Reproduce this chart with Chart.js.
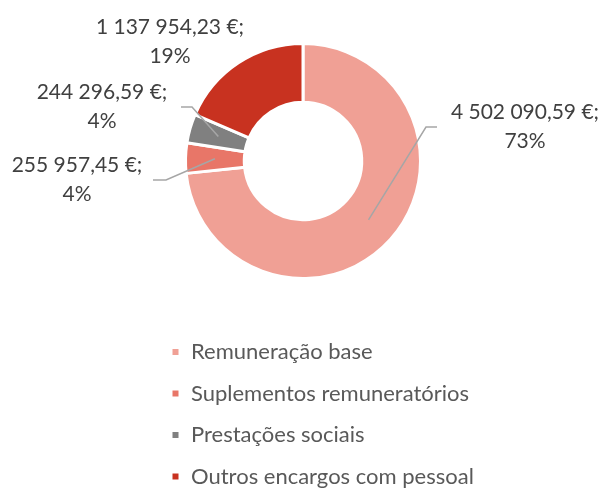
<!DOCTYPE html>
<html>
<head>
<meta charset="utf-8">
<script src="https://cdn.jsdelivr.net/npm/chart.js@4"></script>
<style>
  html, body { margin: 0; padding: 0; background: #fff; }
  #wrap { width: 603px; height: 493px; position: relative; }
</style>
</head>
<body>
<div id="wrap"><canvas id="chart"></canvas></div>
<script>
// --- Data ---
const categories = ['Remuneração base', 'Suplementos remuneratórios', 'Prestações sociais', 'Outros encargos com pessoal'];
const amounts = [4502090.59, 255957.45, 244296.59, 1137954.23];
const sliceColors = ['#F0A095', '#E87668', '#808080', '#C83220'];

// label block offsets from the doughnut centre, and leader elbow/end (null = no leader)
const labelOffsets = [
    { dx: 222, dy: -34, elbow: [123, -34], end: [134, -34] },
    { dx: -226, dy: 19, elbow: [-137, 19], end: [-150, 19] },
    { dx: -201, dy: -54, elbow: [-111, -54], end: [-122, -54] },
    { dx: -133, dy: -119, elbow: null, end: null }
];

const FONT = 'Lato';

// 4 502 090,59 €;
const formatEuro = (v) => {
    const [int, dec] = v.toFixed(2).split('.');
    return int.replace(/\B(?=(\d{3})+(?!\d))/g, ' ') + ',' + dec + ' €;';
};

const dataLabels = {
    id: 'dataLabels',
    afterDatasetsDraw(chart) {
        const ctx = chart.ctx;
        const meta = chart.getDatasetMeta(0);
        const total = amounts.reduce((a, b) => a + b, 0);
        ctx.save();
        meta.data.forEach((arc, i) => {
            const cx = arc.x, cy = arc.y;
            const lo = labelOffsets[i];
            if (lo.elbow) {
                const start = arc.tooltipPosition();
                ctx.beginPath();
                ctx.moveTo(start.x, start.y);
                ctx.lineTo(cx + lo.elbow[0], cy + lo.elbow[1]);
                ctx.lineTo(cx + lo.end[0], cy + lo.end[1]);
                ctx.strokeStyle = '#A6A6A6';
                ctx.lineWidth = 1.5;
                ctx.stroke();
            }
            ctx.fillStyle = '#404040';
            ctx.font = `21px ${FONT}`;
            ctx.textAlign = 'center';
            ctx.textBaseline = 'middle';
            const pct = Math.round(amounts[i] / total * 100) + '%';
            ctx.fillText(formatEuro(amounts[i]), cx + lo.dx, cy + lo.dy - 14.5);
            ctx.fillText(pct, cx + lo.dx, cy + lo.dy + 14.5);
        });
        ctx.restore();
    }
};

// the legend is clipped to its box; let it run to the canvas edge so long names fit
const widenLegend = {
    id: 'widenLegend',
    afterLayout(chart) {
        const lg = chart.legend;
        lg.right = chart.width;
        lg.width = lg.right - lg.left;
    }
};

new Chart(document.getElementById('chart'), {
    type: 'doughnut',
    data: {
        labels: categories,
        datasets: [{
            data: amounts,
            backgroundColor: sliceColors,
            borderColor: '#ffffff',
            borderWidth: 3,
            hoverOffset: 0,
            radius: 117.5,
            cutout: '50%'
        }]
    },
    options: {
        responsive: true,
        maintainAspectRatio: false,
        animation: false,
        events: [],
        layout: { padding: { left: 151.5, right: 148.5, top: 0.5, bottom: -4.5 } },
        plugins: {
            tooltip: { enabled: false },
            legend: {
                position: 'bottom',
                align: 'start',
                labels: {
                    boxWidth: 9,
                    boxHeight: 9,
                    padding: 19.5,
                    color: '#595959',
                    font: { family: FONT, size: 22 }
                }
            }
        }
    },
    plugins: [dataLabels, widenLegend]
});
</script>
</body>
</html>
